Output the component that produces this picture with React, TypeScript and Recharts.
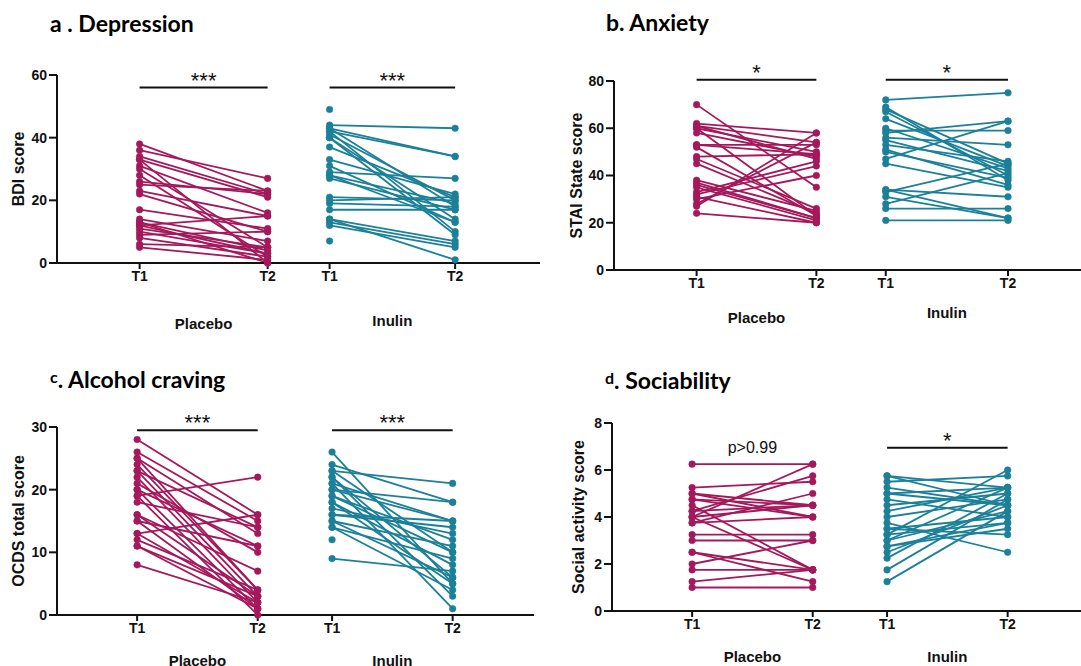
import React from 'react'
import { LineChart, Line, XAxis, YAxis, ReferenceLine, ReferenceDot } from 'recharts'

const PLACEBO = '#a3195b'
const INULIN = '#1b8098'
const INK = '#111'

// a. Depression (BDI)
const bdiPlaceboT1 = [38, 36, 34, 33, 33, 31, 30, 28, 26, 25, 23, 22, 17, 14, 13, 12, 12, 11, 9, 8, 6, 5, 13, 10]
const bdiPlaceboT2 = [23, 27, 22, 21, 0, 16, 5, 2, 22, 23, 15, 10, 11, 7, 4, 15, 3, 5, 10, 2, 5, 1, 0, 3]
const bdiInulinT1 = [49, 44, 43, 42, 41, 40, 43, 37, 33, 31, 29, 28, 27, 28, 21, 20, 19, 17, 14, 13, 12, 14, 7, 42, 40]
const bdiInulinT2 = [null, 43, 34, 34, 20, 14, 18, 21, 22, 13, 27, 19, 17, 13, 20, 21, 18, 17, 7, 6, 5, 1, null, 10, 9]

// b. Anxiety (STAI state)
const staiPlaceboT1 = [70, 62, 61, 60, 58, 61, 53, 52, 48, 47, 45, 38, 37, 36, 35, 33, 32, 30, 28, 27, 24, 60, 53, 31]
const staiPlaceboT2 = [35, 58, 54, 50, 48, 47, 53, 23, 49, 26, 24, 25, 22, 22, 21, 46, 44, 40, 54, 58, 20, 23, 49, 20]
const staiInulinT1 = [72, 69, 68, 67, 64, 59, 58, 56, 55, 53, 51, 47, 45, 34, 33, 31, 28, 26, 21, 60, 50, 34]
const staiInulinT2 = [75, 38, 45, 40, 44, 59, 63, 53, 42, 46, 36, 63, 35, 31, 45, 22, 41, 26, 21, 43, 39, 22]

// c. Alcohol craving (OCDS)
const ocdsPlaceboT1 = [28, 26, 25, 24, 23, 19, 22, 21, 20, 20, 19, 18, 16, 15, 13, 13, 12, 11, 11, 8, 16, 15, 23, 25]
const ocdsPlaceboT2 = [16, 15, 13, 4, 3, 22, 2, 10, 1, 11, 0, 14, 3, 11, 16, 2, 4, 3, 1, 2, 7, 1, 14, 4]
const ocdsInulinT1 = [26, 24, 23, 22, 21, 20, 20, 19, 18, 16, 15, 15, 14, 14, 22, 21, 9, 19, 17, 16, 12, 23, 18]
const ocdsInulinT2 = [5, 18, 21, 3, 15, 15, 18, 10, 8, 15, 6, 11, 9, 4, 6, 1, 7, 12, 13, 14, null, 10, 5]

// d. Sociability (social activity)
const socPlaceboT1 = [6.25, 5.25, 5, 4.75, 4.5, 4.25, 4, 4, 3.75, 3.25, 3, 2.5, 2.5, 2, 1.75, 1.25, 1, 4, 4.25, 3.75, 4.75, 5]
const socPlaceboT2 = [6.25, 5.5, 4, 4.5, 1.75, 5.75, 6.25, 4.5, 4, 3.25, 3, 1.75, 1.25, 3, 1.75, 1.75, 1, 1.75, 4.5, 5, 4, 4.5]
const socInulinT1 = [5.75, 5.5, 5.25, 5, 5, 4.75, 4.5, 4, 3.75, 3.5, 3.25, 3, 3, 2.75, 2.5, 2.25, 1.75, 1.25, 3.5, 4.25, 3.25, 2.75, 5.75]
const socInulinT2 = [5.25, 5.75, 4.5, 4.5, 5.25, 4, 5, 4.75, 2.5, 4, 3.75, 5.25, 4.25, 3.5, 4.5, 5, 4.75, 4.25, 3.25, 5.25, 6, 3.75, 4.5]

const timeLabels = ['T1', 'T2', 'T1', 'T2']
const groupLabels = ['Placebo', 'Inulin']

const PX = 82.6
const Y_W = 60
const M_TOP = 30
const X_H = 26
const G_H = 50

type Sig = { text: string; y: number; bar: boolean }

type PanelProps = {
  left: number
  top: number
  plotW: number
  plotH: number
  xs: number[]
  yMax: number
  yTicks: number[]
  yLabel: string
  labelDx: number
  groupDy: number[]
  placebo: [number[], (number | null)[]]
  inulin: [number[], (number | null)[]]
  sig: [Sig, Sig]
}

function GroupTick(props: any) {
  const { x, y, index, dys } = props
  return (
    <text x={x} y={y - X_H - 8 + dys[index]} textAnchor="middle" dominantBaseline="central"
      fontSize={15} fontWeight={700} fill={INK} fontFamily="Liberation Sans, Arial">
      {groupLabels[index]}
    </text>
  )
}

function pairLines(t1: number[], t2: (number | null)[], a: number, b: number, color: string, tag: string) {
  return t1.map((v, i) => (
    <Line key={tag + i} data={[{ x: a, y: v }, { x: b, y: t2[i] }]} dataKey="y" type="linear"
      stroke={color} strokeWidth={1.8} isAnimationActive={false} activeDot={false}
      dot={{ r: 3.3, fill: color, stroke: color, strokeWidth: 0.5 }} />
  ))
}

function sigMarks(s: Sig, a: number, b: number, tag: string) {
  const out = []
  if (s.bar) {
    out.push(<ReferenceLine key={tag + 'l'} segment={[{ x: a, y: s.y }, { x: b, y: s.y }]}
      stroke={INK} strokeWidth={2} ifOverflow="visible" />)
  }
  out.push(<ReferenceDot key={tag + 'd'} x={(a + b) / 2} y={s.y} r={0} fill="none" stroke="none" ifOverflow="visible"
    label={s.bar
      ? { value: s.text, position: 'top', offset: 0, fontSize: 22, fill: INK, fontFamily: 'Liberation Sans, Arial' }
      : { value: s.text, position: 'center', fontSize: 16, fill: INK, fontFamily: 'Liberation Sans, Arial' }} />)
  return out
}

function Panel(p: PanelProps) {
  const domainX = [0, p.plotW / PX]
  const [x1, x2, x3, x4] = p.xs
  return (
    <div style={{ position: 'absolute', left: p.left - Y_W, top: p.top - M_TOP }}>
      <LineChart width={Y_W + p.plotW} height={M_TOP + p.plotH + X_H + G_H}
        margin={{ top: M_TOP, right: 0, bottom: 0, left: 0 }}>
        <XAxis type="number" dataKey="x" domain={domainX} allowDataOverflow ticks={p.xs} interval={0}
          tickFormatter={(v: number, i: number) => timeLabels[i]} height={X_H}
          axisLine={{ stroke: INK, strokeWidth: 2 }} tickLine={{ stroke: INK, strokeWidth: 2 }} tickSize={6}
          tick={{ fill: INK, fontSize: 14, fontWeight: 700, fontFamily: 'Liberation Sans, Arial' }} />
        <XAxis xAxisId="grp" type="number" dataKey="x" domain={domainX} allowDataOverflow
          ticks={[(x1 + x2) / 2, (x3 + x4) / 2]} interval={0} axisLine={false} tickLine={false} height={G_H}
          tick={<GroupTick dys={p.groupDy} />} />
        <YAxis type="number" domain={[0, p.yMax]} ticks={p.yTicks} interval={0} width={Y_W}
          axisLine={{ stroke: INK, strokeWidth: 2 }} tickLine={{ stroke: INK, strokeWidth: 2 }} tickSize={8}
          tick={{ fill: INK, fontSize: 14, fontWeight: 700, fontFamily: 'Liberation Sans, Arial' }}
          label={{ value: p.yLabel, angle: -90, position: 'center', dx: p.labelDx, fontSize: 16, fontWeight: 700, fill: INK, fontFamily: 'Liberation Sans, Arial' }} />
        {pairLines(p.placebo[0], p.placebo[1], x1, x2, PLACEBO, 'p')}
        {pairLines(p.inulin[0], p.inulin[1], x3, x4, INULIN, 'i')}
        {sigMarks(p.sig[0], x1, x2, 'sp')}
        {sigMarks(p.sig[1], x3, x4, 'si')}
      </LineChart>
    </div>
  )
}

function Title({ left, top, letter, text, small }: { left: number; top: number; letter: string; text: string; small?: boolean }) {
  return (
    <div style={{ position: 'absolute', left, top, fontFamily: 'Lato, sans-serif', fontWeight: 700, fontSize: 23, lineHeight: '23px', color: '#000', whiteSpace: 'nowrap' }}>
      {small
        ? <span style={{ fontSize: 16, position: 'relative', top: -5 }}>{letter}</span>
        : <span>{letter}</span>}
      {text}
    </div>
  )
}

export default function App() {
  return (
    <div style={{ position: 'absolute', left: 0, top: 0, width: 1081, height: 666, background: '#fff', overflow: 'hidden' }}>
      <Title left={50} top={12} letter="a" text=" . Depression" />
      <Title left={606} top={11} letter="b" text=". Anxiety" />
      <Title left={50} top={368} letter="c" text=". Alcohol craving" small />
      <Title left={605} top={369} letter="d" text=". Sociability" small />
      <Panel left={57} top={75} plotW={483} plotH={188} xs={[1, 2.55, 3.3, 4.82]} yMax={60} yTicks={[0, 20, 40, 60]}
        yLabel="BDI score" labelDx={-9} groupDy={[60, 57]}
        placebo={[bdiPlaceboT1, bdiPlaceboT2]} inulin={[bdiInulinT1, bdiInulinT2]}
        sig={[{ text: '***', y: 56, bar: true }, { text: '***', y: 56, bar: true }]} />
      <Panel left={614} top={81} plotW={470} plotH={189} xs={[1, 2.45, 3.29, 4.77]} yMax={80} yTicks={[0, 20, 40, 60, 80]}
        yLabel="STAI State score" labelDx={-8} groupDy={[47, 42]}
        placebo={[staiPlaceboT1, staiPlaceboT2]} inulin={[staiInulinT1, staiInulinT2]}
        sig={[{ text: '*', y: 80.5, bar: true }, { text: '*', y: 80.5, bar: true }]} />
      <Panel left={57} top={427} plotW={477} plotH={188} xs={[0.97, 2.43, 3.33, 4.79]} yMax={30} yTicks={[0, 10, 20, 30]}
        yLabel="OCDS total score" labelDx={-9} groupDy={[45, 45]}
        placebo={[ocdsPlaceboT1, ocdsPlaceboT2]} inulin={[ocdsInulinT1, ocdsInulinT2]}
        sig={[{ text: '***', y: 29.5, bar: true }, { text: '***', y: 29.5, bar: true }]} />
      <Panel left={612} top={423} plotW={470} plotH={188} xs={[0.97, 2.43, 3.33, 4.79]} yMax={8} yTicks={[0, 2, 4, 6, 8]}
        yLabel="Social activity score" labelDx={-4} groupDy={[45, 45]}
        placebo={[socPlaceboT1, socPlaceboT2]} inulin={[socInulinT1, socInulinT2]}
        sig={[{ text: 'p>0.99', y: 6.95, bar: false }, { text: '*', y: 6.95, bar: true }]} />
    </div>
  )
}
